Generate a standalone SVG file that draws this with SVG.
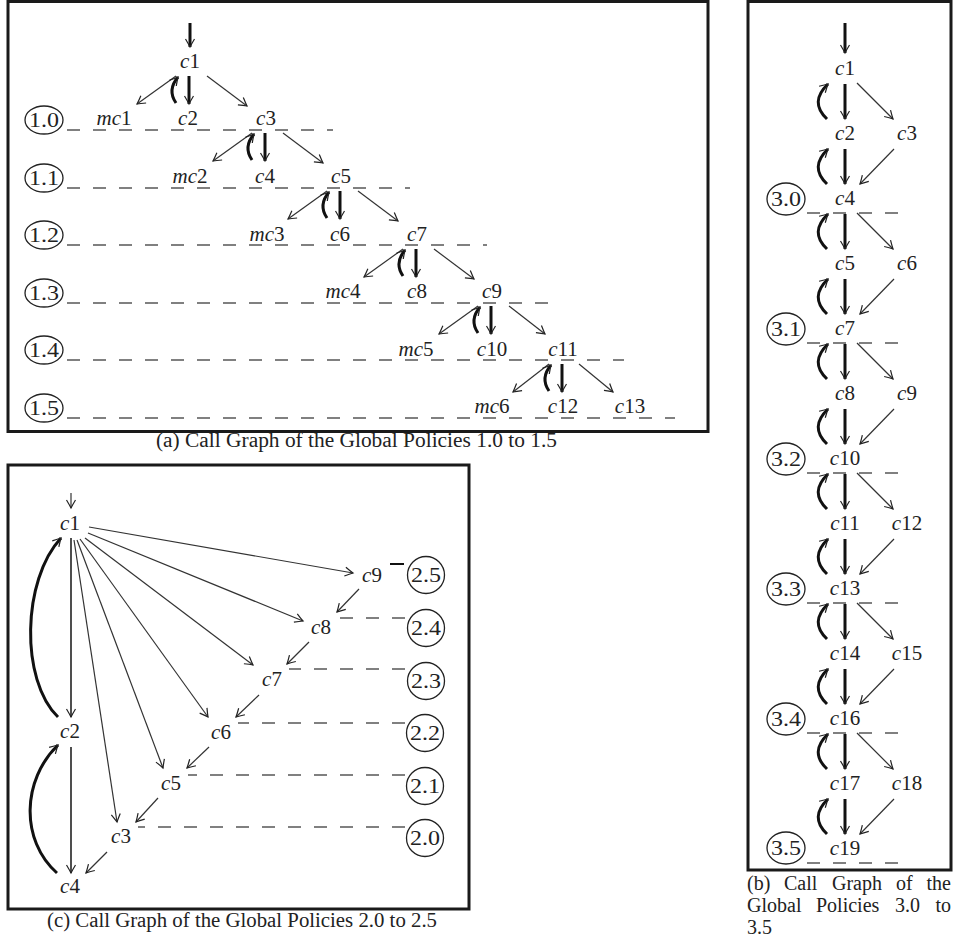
<svg xmlns="http://www.w3.org/2000/svg" width="955" height="940" viewBox="0 0 955 940">
<style>
.box{fill:none;stroke:#1a1a1a;stroke-width:3}
.lbl{font-family:"Liberation Serif",serif;font-size:21px;fill:#222;text-anchor:middle}
.it{font-style:italic}
.pl{font-family:"Liberation Serif",serif;font-size:21px;fill:#222;text-anchor:middle}
.cir{fill:none;stroke:#222;stroke-width:1.3}
.cap{font-family:"Liberation Serif",serif;font-size:20px;fill:#222}
.e{fill:none;stroke:#333;stroke-width:1.2;marker-end:url(#ah)}
.t{fill:none;stroke:#111;stroke-width:3;marker-end:url(#ah)}
.m{fill:none;stroke:#222;stroke-width:1.6;marker-end:url(#ah)}
.d{fill:none;stroke:#808080;stroke-width:2;stroke-dasharray:13 13}
</style>
<defs>
<marker id="ah" markerUnits="userSpaceOnUse" viewBox="-10 -6 12 12" markerWidth="12" markerHeight="12" refX="0" refY="0" orient="auto">
<path d="M-8,-4.5 Q-3,-1.5 0,0 Q-3,1.5 -8,4.5" fill="none" stroke="#222" stroke-width="1.2"/>
</marker>
</defs>
<rect width="955" height="940" fill="#fff"/>

<!-- Panel (a) -->
<g id="panel-a">
<rect class="box" x="8" y="1.5" width="700" height="430"/>
<g id="levels-a">
<line class="d" x1="67" y1="130" x2="333" y2="130"/>
<line class="d" x1="67" y1="188" x2="410" y2="188"/>
<line class="d" x1="67" y1="245" x2="487" y2="245"/>
<line class="d" x1="67" y1="303" x2="557" y2="303"/>
<line class="d" x1="67" y1="360" x2="624" y2="360"/>
<line class="d" x1="67" y1="418" x2="675" y2="418"/>
</g>
<g id="pa10"><ellipse class="cir" cx="44" cy="120" rx="19" ry="14"/><text class="pl" x="44" y="127" textLength="30" lengthAdjust="spacingAndGlyphs">1.0</text></g>
<g id="pa11"><ellipse class="cir" cx="44" cy="178" rx="19" ry="14"/><text class="pl" x="44" y="185" textLength="30" lengthAdjust="spacingAndGlyphs">1.1</text></g>
<g id="pa12"><ellipse class="cir" cx="44" cy="235" rx="19" ry="14"/><text class="pl" x="44" y="242" textLength="30" lengthAdjust="spacingAndGlyphs">1.2</text></g>
<g id="pa13"><ellipse class="cir" cx="44" cy="293" rx="19" ry="14"/><text class="pl" x="44" y="300" textLength="30" lengthAdjust="spacingAndGlyphs">1.3</text></g>
<g id="pa14"><ellipse class="cir" cx="44" cy="350" rx="19" ry="14"/><text class="pl" x="44" y="357" textLength="30" lengthAdjust="spacingAndGlyphs">1.4</text></g>
<g id="pa15"><ellipse class="cir" cx="44" cy="408" rx="19" ry="14"/><text class="pl" x="44" y="415" textLength="30" lengthAdjust="spacingAndGlyphs">1.5</text></g>

<g id="a-c1"><text class="lbl" x="190" y="68"><tspan class="it">c</tspan>1</text></g>
<g id="a-mc1"><text class="lbl" x="114" y="125"><tspan class="it">mc</tspan>1</text></g>
<g id="a-c2"><text class="lbl" x="188" y="125"><tspan class="it">c</tspan>2</text></g>
<g id="a-c3"><text class="lbl" x="266" y="125"><tspan class="it">c</tspan>3</text></g>
<g id="a-mc2"><text class="lbl" x="190" y="183"><tspan class="it">mc</tspan>2</text></g>
<g id="a-c4"><text class="lbl" x="265" y="183"><tspan class="it">c</tspan>4</text></g>
<g id="a-c5"><text class="lbl" x="341" y="183"><tspan class="it">c</tspan>5</text></g>
<g id="a-mc3"><text class="lbl" x="267" y="241"><tspan class="it">mc</tspan>3</text></g>
<g id="a-c6"><text class="lbl" x="340" y="241"><tspan class="it">c</tspan>6</text></g>
<g id="a-c7"><text class="lbl" x="417" y="241"><tspan class="it">c</tspan>7</text></g>
<g id="a-mc4"><text class="lbl" x="343" y="298"><tspan class="it">mc</tspan>4</text></g>
<g id="a-c8"><text class="lbl" x="417" y="298"><tspan class="it">c</tspan>8</text></g>
<g id="a-c9"><text class="lbl" x="492" y="298"><tspan class="it">c</tspan>9</text></g>
<g id="a-mc5"><text class="lbl" x="416" y="356"><tspan class="it">mc</tspan>5</text></g>
<g id="a-c10"><text class="lbl" x="492" y="356"><tspan class="it">c</tspan>10</text></g>
<g id="a-c11"><text class="lbl" x="563" y="356"><tspan class="it">c</tspan>11</text></g>
<g id="a-mc6"><text class="lbl" x="492" y="413"><tspan class="it">mc</tspan>6</text></g>
<g id="a-c12"><text class="lbl" x="563" y="413"><tspan class="it">c</tspan>12</text></g>
<g id="a-c13"><text class="lbl" x="630" y="413"><tspan class="it">c</tspan>13</text></g>

<g id="connectors-a">
<path class="t" d="M190,23 L190,47"/>
<path class="e" d="M176,76 L137,104"/><path class="t" d="M189,76 L189,104"/><path class="e" d="M207,76 L247,106"/><path class="t" d="M176,103 Q167,90 178,77"/>
<path class="e" d="M252,133 L213,161"/><path class="t" d="M265,133 L265,161"/><path class="e" d="M283,133 L323,163"/><path class="t" d="M252,160 Q243,147 254,134"/>
<path class="e" d="M327,191 L288,219"/><path class="t" d="M340,191 L340,219"/><path class="e" d="M358,191 L398,221"/><path class="t" d="M327,218 Q318,205 329,192"/>
<path class="e" d="M403,249 L364,277"/><path class="t" d="M416,249 L416,277"/><path class="e" d="M434,249 L474,279"/><path class="t" d="M403,276 Q394,263 405,250"/>
<path class="e" d="M478,306 L439,334"/><path class="t" d="M491,306 L491,334"/><path class="e" d="M509,306 L545,334"/><path class="t" d="M478,333 Q469,320 480,307"/>
<path class="e" d="M549,364 L513,392"/><path class="t" d="M562,364 L562,392"/><path class="e" d="M579,364 L613,392"/><path class="t" d="M549,391 Q540,378 551,365"/>
</g>
<text class="cap" x="156" y="447" textLength="401" lengthAdjust="spacingAndGlyphs">(a)  Call Graph of the Global Policies 1.0 to 1.5</text>
</g>

<!-- Panel (b) -->
<g id="panel-b">
<rect class="box" x="748" y="1.5" width="203" height="868.5"/>
<g id="levels-b">
<line class="d" x1="807" y1="213" x2="899" y2="213"/>
<line class="d" x1="807" y1="343" x2="899" y2="343"/>
<line class="d" x1="807" y1="473" x2="899" y2="473"/>
<line class="d" x1="807" y1="603" x2="899" y2="603"/>
<line class="d" x1="807" y1="733" x2="899" y2="733"/>
<line class="d" x1="807" y1="863" x2="899" y2="863"/>
</g>
<g id="pb30"><ellipse class="cir" cx="786" cy="199" rx="19" ry="16"/><text class="pl" x="786" y="206" textLength="30" lengthAdjust="spacingAndGlyphs">3.0</text></g>
<g id="pb31"><ellipse class="cir" cx="786" cy="329" rx="19" ry="16"/><text class="pl" x="786" y="336" textLength="30" lengthAdjust="spacingAndGlyphs">3.1</text></g>
<g id="pb32"><ellipse class="cir" cx="786" cy="459" rx="19" ry="16"/><text class="pl" x="786" y="466" textLength="30" lengthAdjust="spacingAndGlyphs">3.2</text></g>
<g id="pb33"><ellipse class="cir" cx="786" cy="589" rx="19" ry="16"/><text class="pl" x="786" y="596" textLength="30" lengthAdjust="spacingAndGlyphs">3.3</text></g>
<g id="pb34"><ellipse class="cir" cx="786" cy="719" rx="19" ry="16"/><text class="pl" x="786" y="726" textLength="30" lengthAdjust="spacingAndGlyphs">3.4</text></g>
<g id="pb35"><ellipse class="cir" cx="786" cy="848" rx="19" ry="16"/><text class="pl" x="786" y="855" textLength="30" lengthAdjust="spacingAndGlyphs">3.5</text></g>

<g id="b-c1"><text class="lbl" x="845" y="75"><tspan class="it">c</tspan>1</text></g>
<g id="b-c2"><text class="lbl" x="845" y="140"><tspan class="it">c</tspan>2</text></g>
<g id="b-c3"><text class="lbl" x="907" y="140"><tspan class="it">c</tspan>3</text></g>
<g id="b-c4"><text class="lbl" x="845" y="205"><tspan class="it">c</tspan>4</text></g>
<g id="b-c5"><text class="lbl" x="845" y="270"><tspan class="it">c</tspan>5</text></g>
<g id="b-c6"><text class="lbl" x="907" y="270"><tspan class="it">c</tspan>6</text></g>
<g id="b-c7"><text class="lbl" x="845" y="335"><tspan class="it">c</tspan>7</text></g>
<g id="b-c8"><text class="lbl" x="845" y="400"><tspan class="it">c</tspan>8</text></g>
<g id="b-c9"><text class="lbl" x="907" y="400"><tspan class="it">c</tspan>9</text></g>
<g id="b-c10"><text class="lbl" x="845" y="465"><tspan class="it">c</tspan>10</text></g>
<g id="b-c11"><text class="lbl" x="845" y="530"><tspan class="it">c</tspan>11</text></g>
<g id="b-c12"><text class="lbl" x="907" y="530"><tspan class="it">c</tspan>12</text></g>
<g id="b-c13"><text class="lbl" x="845" y="595"><tspan class="it">c</tspan>13</text></g>
<g id="b-c14"><text class="lbl" x="845" y="660"><tspan class="it">c</tspan>14</text></g>
<g id="b-c15"><text class="lbl" x="907" y="660"><tspan class="it">c</tspan>15</text></g>
<g id="b-c16"><text class="lbl" x="845" y="725"><tspan class="it">c</tspan>16</text></g>
<g id="b-c17"><text class="lbl" x="845" y="790"><tspan class="it">c</tspan>17</text></g>
<g id="b-c18"><text class="lbl" x="907" y="790"><tspan class="it">c</tspan>18</text></g>
<g id="b-c19"><text class="lbl" x="845" y="855"><tspan class="it">c</tspan>19</text></g>

<g id="connectors-b">
<path class="t" d="M845,23 L845,53"/>
<path class="t" d="M845,84 L845,119"/><path class="t" d="M827,119 Q809,102 828,84"/><path class="e" d="M857,83 L893,119"/>
<path class="t" d="M845,149 L845,184"/><path class="t" d="M827,184 Q809,167 828,149"/><path class="e" d="M894,149 L860,184"/>
<path class="t" d="M845,214 L845,249"/><path class="t" d="M827,249 Q809,232 828,214"/><path class="e" d="M857,213 L893,249"/>
<path class="t" d="M845,279 L845,314"/><path class="t" d="M827,314 Q809,297 828,279"/><path class="e" d="M894,279 L860,314"/>
<path class="t" d="M845,344 L845,379"/><path class="t" d="M827,379 Q809,362 828,344"/><path class="e" d="M857,343 L893,379"/>
<path class="t" d="M845,409 L845,444"/><path class="t" d="M827,444 Q809,427 828,409"/><path class="e" d="M894,409 L860,444"/>
<path class="t" d="M845,474 L845,509"/><path class="t" d="M827,509 Q809,492 828,474"/><path class="e" d="M857,473 L893,509"/>
<path class="t" d="M845,539 L845,574"/><path class="t" d="M827,574 Q809,557 828,539"/><path class="e" d="M894,539 L860,574"/>
<path class="t" d="M845,604 L845,639"/><path class="t" d="M827,639 Q809,622 828,604"/><path class="e" d="M857,603 L893,639"/>
<path class="t" d="M845,669 L845,704"/><path class="t" d="M827,704 Q809,687 828,669"/><path class="e" d="M894,669 L860,704"/>
<path class="t" d="M845,734 L845,769"/><path class="t" d="M827,769 Q809,752 828,734"/><path class="e" d="M857,733 L893,769"/>
<path class="t" d="M845,799 L845,834"/><path class="t" d="M827,834 Q809,817 828,799"/><path class="e" d="M894,799 L860,834"/>
</g>
<text class="cap" y="890"><tspan x="747">(b)</tspan><tspan x="784">Call</tspan><tspan x="832">Graph</tspan><tspan x="896">of</tspan><tspan x="951" text-anchor="end">the</tspan></text>
<text class="cap" y="912"><tspan x="747">Global</tspan><tspan x="816">Policies</tspan><tspan x="895">3.0</tspan><tspan x="951" text-anchor="end">to</tspan></text>
<text class="cap" x="747" y="934">3.5</text>
</g>

<!-- Panel (c) -->
<g id="panel-c">
<rect class="box" x="8" y="465" width="461" height="444"/>
<g id="levels-c">
<line x1="390" y1="564" x2="404" y2="564" stroke="#111" stroke-width="2"/>
<line class="d" x1="405" y1="618" x2="340" y2="618"/>
<line class="d" x1="405" y1="669" x2="289" y2="669"/>
<line class="d" x1="405" y1="723" x2="238" y2="723"/>
<line class="d" x1="405" y1="775" x2="188" y2="775"/>
<line class="d" x1="405" y1="827" x2="138" y2="827"/>
</g>
<g id="pc25"><circle class="cir" cx="426" cy="575" r="18.5"/><text class="pl" x="426" y="582" textLength="30" lengthAdjust="spacingAndGlyphs">2.5</text></g>
<g id="pc24"><circle class="cir" cx="426" cy="628" r="18.5"/><text class="pl" x="426" y="635" textLength="30" lengthAdjust="spacingAndGlyphs">2.4</text></g>
<g id="pc23"><circle class="cir" cx="426" cy="681" r="18.5"/><text class="pl" x="426" y="688" textLength="30" lengthAdjust="spacingAndGlyphs">2.3</text></g>
<g id="pc22"><circle class="cir" cx="425" cy="733" r="18.5"/><text class="pl" x="425" y="740" textLength="30" lengthAdjust="spacingAndGlyphs">2.2</text></g>
<g id="pc21"><circle class="cir" cx="425" cy="786" r="18.5"/><text class="pl" x="425" y="793" textLength="30" lengthAdjust="spacingAndGlyphs">2.1</text></g>
<g id="pc20"><circle class="cir" cx="425" cy="838" r="18.5"/><text class="pl" x="425" y="845" textLength="30" lengthAdjust="spacingAndGlyphs">2.0</text></g>

<g id="c-c1"><text class="lbl" x="70" y="530"><tspan class="it">c</tspan>1</text></g>
<g id="c-c2"><text class="lbl" x="70" y="738"><tspan class="it">c</tspan>2</text></g>
<g id="c-c4"><text class="lbl" x="70" y="893"><tspan class="it">c</tspan>4</text></g>
<g id="c-c3"><text class="lbl" x="121" y="843"><tspan class="it">c</tspan>3</text></g>
<g id="c-c5"><text class="lbl" x="171" y="790"><tspan class="it">c</tspan>5</text></g>
<g id="c-c6"><text class="lbl" x="221" y="739"><tspan class="it">c</tspan>6</text></g>
<g id="c-c7"><text class="lbl" x="272" y="686"><tspan class="it">c</tspan>7</text></g>
<g id="c-c8"><text class="lbl" x="321" y="634"><tspan class="it">c</tspan>8</text></g>
<g id="c-c9"><text class="lbl" x="372" y="582"><tspan class="it">c</tspan>9</text></g>

<g id="connectors-c">
<path class="e" d="M71,493 L71,508"/>
<path class="m" d="M71,538 L71,717"/>
<path class="m" d="M71,747 L71,873"/>
<path class="t" d="M58,717 C20,680 22,580 61,538"/>
<path class="t" d="M57,873 C20,840 22,780 58,745"/>
<path class="e" d="M74,540 L117,822"/>
<path class="e" d="M77,540 L163,768"/>
<path class="e" d="M80,539 L208,717"/>
<path class="e" d="M85,538 L253,665"/>
<path class="e" d="M88,533 L303,621"/>
<path class="e" d="M89,527 L353,573"/>
<path class="e" d="M359,589 L337,612"/>
<path class="e" d="M309,642 L287,664"/>
<path class="e" d="M259,695 L236,717"/>
<path class="e" d="M209,747 L187,768"/>
<path class="e" d="M158,798 L136,822"/>
<path class="e" d="M107,852 L86,873"/>
</g>
<text class="cap" x="47" y="927" textLength="390" lengthAdjust="spacingAndGlyphs">(c)  Call Graph of the Global Policies 2.0 to 2.5</text>
</g>
</svg>
